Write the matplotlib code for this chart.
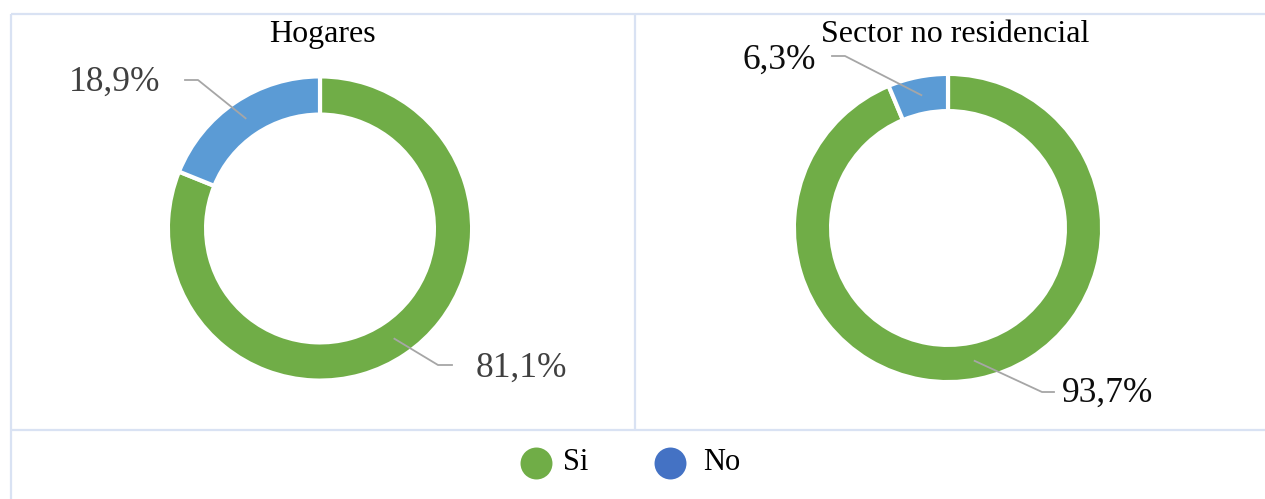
import numpy as np
import matplotlib
matplotlib.use("Agg")
import matplotlib.pyplot as plt

# ---- data ----
categories = ["Si", "No"]
titles = ["Hogares", "Sector no residencial"]
hogares_values = [81.1, 18.9]
sector_values = [93.7, 6.3]
hogares_labels = ["81,1%", "18,9%"]
sector_labels = ["93,7%", "6,3%"]

colors = ["#70AD47", "#5B9BD5"]
legend_colors = ["#70AD47", "#4472C4"]
border_col = "#D9E2F3"
leader_col = "#A6A6A6"

W, H = 1265, 499
DPI = 100
fig = plt.figure(figsize=(W / DPI, H / DPI), dpi=DPI)
plt.rcParams["font.family"] = ["Liberation Serif", "DejaVu Serif"]

# background axes in pixel coords (y downward)
bg = fig.add_axes([0, 0, 1, 1])
bg.set_xlim(0, W)
bg.set_ylim(H, 0)
bg.axis("off")

# table borders
lw_b = 1.6
bg.plot([11, W], [14, 14], color=border_col, lw=lw_b, solid_capstyle="butt")
bg.plot([11, 11], [14, H], color=border_col, lw=lw_b, solid_capstyle="butt")
bg.plot([635, 635], [14, 430], color=border_col, lw=lw_b, solid_capstyle="butt")
bg.plot([11, W], [430, 430], color=border_col, lw=lw_b, solid_capstyle="butt")

EDGE_LW = 3.0  # points
edge_px = EDGE_LW * DPI / 72.0

donuts = [
    dict(title=titles[0], vals=hogares_values, labs=hogares_labels,
         cx=320, cy=228.5, R=150, r=116, tx=322, ty=34,
         lab=[(438, 365, 452, 476, "left", 368, "#404040"),
              (198, 80, 185, 160, "right", 82, "#404040")]),
    dict(title=titles[1], vals=sector_values, labs=sector_labels,
         cx=948, cy=228, R=152, r=119, tx=955, ty=34,
         lab=[(1042, 392, 1054, 1062, "left", 393, "#0D0D0D"),
              (845, 56, 832, 816, "right", 60, "#0D0D0D")]),
]

overlay_items = []
for d in donuts:
    R = d["R"] + edge_px / 2
    r = d["r"] - edge_px / 2
    ax = fig.add_axes([(d["cx"] - R) / W, (H - d["cy"] - R) / H, 2 * R / W, 2 * R / H])
    wedges, _ = ax.pie(d["vals"], colors=colors, startangle=90, counterclock=False,
                       radius=1.0,
                       wedgeprops=dict(width=1 - r / R, edgecolor="white", linewidth=EDGE_LW))
    ax.set_xlim(-1, 1)
    ax.set_ylim(-1, 1)
    ax.axis("off")
    overlay_items.append((d, wedges))

# overlay for texts and leader lines (drawn on top of donuts)
ov = fig.add_axes([0, 0, 1, 1])
ov.set_xlim(0, W)
ov.set_ylim(H, 0)
ov.axis("off")
ov.patch.set_alpha(0)

for d, wedges in overlay_items:
    ov.text(d["tx"], d["ty"], d["title"], ha="center", va="center", fontsize=23, color="black")
    rm = (d["R"] + d["r"]) / 2
    for w, lab, spec in zip(wedges, d["labs"], d["lab"]):
        ang = np.deg2rad((w.theta1 + w.theta2) / 2)
        ax0 = d["cx"] + rm * np.cos(ang)
        ay0 = d["cy"] - rm * np.sin(ang)
        ex, ey, endx, txx, ha, tyy, tcol = spec
        ov.plot([ax0, ex, endx], [ay0, ey, ey], color=leader_col, lw=1.3)
        ov.text(txx, tyy, lab, ha=ha, va="center", fontsize=25.5, color=tcol)

# legend
leg_x = [536, 670]
txt_x = [563, 703]
for c, lc, mx, tx in zip(categories, legend_colors, leg_x, txt_x):
    ov.plot([mx], [463], marker="o", markersize=23, color=lc, markeredgewidth=0, linestyle="none")
    ov.text(tx, 463, c, ha="left", va="center", fontsize=22, color="black")

fig.savefig("out.png", dpi=DPI)
